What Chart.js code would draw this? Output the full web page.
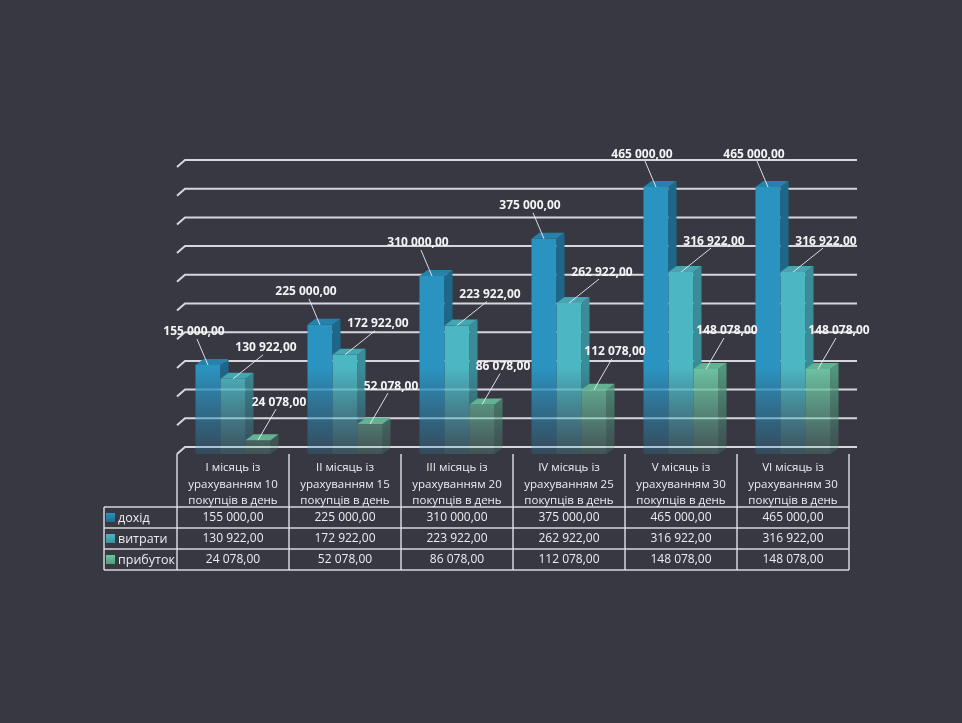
<!DOCTYPE html>
<html>
<head>
<meta charset="utf-8">
<script src="https://cdn.jsdelivr.net/npm/chart.js@4.4.1/dist/chart.umd.min.js"></script>
<style>
  html, body { margin: 0; padding: 0; background: #383843; }
  #wrap { width: 962px; height: 723px; }
</style>
</head>
<body>
<div id="wrap"><canvas id="chart" width="962" height="723"></canvas></div>
<script>
const categories = [
  ["I місяць із", "урахуванням 10", "покупців в день"],
  ["II місяць із", "урахуванням 15", "покупців в день"],
  ["III місяць із", "урахуванням 20", "покупців в день"],
  ["IV місяць із", "урахуванням 25", "покупців в день"],
  ["V місяць із", "урахуванням 30", "покупців в день"],
  ["VI місяць із", "урахуванням 30", "покупців в день"],
]
const income = [155000, 225000, 310000, 375000, 465000, 465000]
const costs = [130922, 172922, 223922, 262922, 316922, 316922]
const profit = [24078, 52078, 86078, 112078, 148078, 148078]
const seriesNames = ["дохід", "витрати", "прибуток"]

// face colours per series: front, top, side
const frontRgb = [[43, 147, 192], [77, 182, 195], [109, 194, 161]]
const topRgb = [[38, 130, 171], [69, 165, 176], [98, 179, 148]]
const sideRgb = [[29, 103, 138], [58, 141, 151], [80, 152, 125]]

const BAR_DX = 8, BAR_DY = 6
const GRID_DX = 8, GRID_DY = 7
const TEXT = "#ececf0"
const LINE = "rgba(222, 222, 228, 0.95)"

function rgba(c, a) {
  return `rgba(${c[0]}, ${c[1]}, ${c[2]}, ${a})`
}

function fade(ctx, area, c) {
  let g = ctx.createLinearGradient(0, area.top, 0, area.bottom)
  g.addColorStop(0, rgba(c, 1))
  g.addColorStop(0.7, rgba(c, 1))
  g.addColorStop(0.84, rgba(c, 0.6))
  g.addColorStop(1, rgba(c, 0.2))
  return g
}

function money(v) {
  let s = Math.round(v).toString().replace(/\B(?=(\d{3})+(?!\d))/g, " ")
  return s + ",00"
}

// gridlines painted on the back wall, with the short slant on the left
const backWall = {
  id: "backWall",
  beforeDatasetsDraw(chart) {
    const { ctx, chartArea, scales } = chart
    ctx.save()
    ctx.strokeStyle = LINE
    ctx.lineWidth = 2
    scales.y.ticks.forEach(function (t) {
      let y = scales.y.getPixelForValue(t.value)
      ctx.beginPath()
      ctx.moveTo(chartArea.left, y)
      ctx.lineTo(chartArea.left + GRID_DX, y - GRID_DY)
      ctx.lineTo(chartArea.right + GRID_DX, y - GRID_DY)
      ctx.stroke()
    })
    ctx.restore()
  },
}

// top and right faces of every bar
const barDepth = {
  id: "barDepth",
  afterDatasetsDraw(chart) {
    const { ctx, chartArea } = chart
    let metas = [0, 1, 2].map((i) => chart.getDatasetMeta(i))
    ctx.save()
    for (let j = 0; j < categories.length; j++) {
      for (let i = 0; i < metas.length; i++) {
        let bar = metas[i].data[j]
        let { x, y, base, width } = bar.getProps(["x", "y", "base", "width"], true)
        let l = x - width / 2
        let r = x + width / 2

        ctx.save()
        if (i < metas.length - 1) {
          // the next bar hides this side below its own top
          let next = metas[i + 1].data[j].y
          ctx.beginPath()
          ctx.rect(r - 1, 0, BAR_DX + 2, next)
          ctx.clip()
        }
        ctx.fillStyle = fade(ctx, chartArea, sideRgb[i])
        ctx.beginPath()
        ctx.moveTo(r, y)
        ctx.lineTo(r + BAR_DX, y - BAR_DY)
        ctx.lineTo(r + BAR_DX, base - BAR_DY)
        ctx.lineTo(r, base)
        ctx.closePath()
        ctx.fill()
        ctx.restore()

        ctx.fillStyle = rgba(topRgb[i], 1)
        ctx.beginPath()
        ctx.moveTo(l, y)
        ctx.lineTo(r, y)
        ctx.lineTo(r + BAR_DX, y - BAR_DY)
        ctx.lineTo(l + BAR_DX, y - BAR_DY)
        ctx.closePath()
        ctx.fill()
      }
    }
    ctx.restore()
  },
}

// value labels with leader lines
const labelOffsets = [[-14, -33], [33, -31], [21, -38]]
const valueLabels = {
  id: "valueLabels",
  afterDatasetsDraw(chart) {
    const { ctx } = chart
    ctx.save()
    ctx.font = "bold 12px 'Open Sans'"
    ctx.textAlign = "center"
    ctx.textBaseline = "middle"
    chart.data.datasets.forEach(function (ds, i) {
      let meta = chart.getDatasetMeta(i)
      meta.data.forEach(function (bar, j) {
        let lx = bar.x + labelOffsets[i][0]
        let ly = bar.y + labelOffsets[i][1]
        ctx.strokeStyle = "rgba(240, 240, 245, 0.9)"
        ctx.lineWidth = 1
        ctx.beginPath()
        ctx.moveTo(bar.x, bar.y)
        ctx.lineTo(lx - Math.sign(labelOffsets[i][0]) * 3, ly + 7)
        ctx.stroke()
        ctx.fillStyle = "#f4f4f6"
        ctx.fillText(money(ds.data[j]), lx, ly)
      })
    })
    ctx.restore()
  },
}

// data table under the chart
const dataTable = {
  id: "dataTable",
  afterDraw(chart) {
    const { ctx, chartArea, scales } = chart
    let n = categories.length
    let colW = (chartArea.right - chartArea.left) / n
    let top = chartArea.bottom
    let headH = 53
    let rowH = 21
    let rowsTop = top + headH
    let bottom = rowsTop + rowH * seriesNames.length
    let legendLeft = 104

    ctx.save()
    ctx.strokeStyle = LINE
    ctx.lineWidth = 1.5

    for (let k = 0; k <= n; k++) {
      let x = k == n ? scales.x.getPixelForValue(n - 1) + colW / 2 : scales.x.getPixelForValue(k) - colW / 2
      ctx.beginPath()
      ctx.moveTo(x, top)
      ctx.lineTo(x, bottom)
      ctx.stroke()
    }
    for (let r = 0; r <= seriesNames.length; r++) {
      let y = rowsTop + r * rowH
      ctx.beginPath()
      ctx.moveTo(legendLeft, y)
      ctx.lineTo(chartArea.right, y)
      ctx.stroke()
    }
    ctx.beginPath()
    ctx.moveTo(legendLeft, rowsTop)
    ctx.lineTo(legendLeft, bottom)
    ctx.stroke()

    ctx.fillStyle = TEXT
    ctx.font = "11.5px 'Open Sans'"
    ctx.textAlign = "center"
    ctx.textBaseline = "middle"
    categories.forEach(function (lines, j) {
      let cx = scales.x.getPixelForValue(j)
      lines.forEach(function (line, k) {
        ctx.fillText(line, cx, top + 14 + k * 16.5)
      })
    })

    ctx.font = "12px 'Open Sans'"
    chart.data.datasets.forEach(function (ds, i) {
      let cy = rowsTop + i * rowH + rowH / 2 + 0.5
      ds.data.forEach(function (v, j) {
        ctx.fillStyle = TEXT
        ctx.fillText(money(v), scales.x.getPixelForValue(j), cy)
      })
      let g = ctx.createLinearGradient(0, cy - 5, 0, cy + 5)
      g.addColorStop(0, rgba(frontRgb[i], 1))
      g.addColorStop(1, rgba(sideRgb[i], 1))
      ctx.fillStyle = g
      ctx.fillRect(legendLeft + 2, cy - 5, 9, 9)
      ctx.fillStyle = TEXT
      ctx.textAlign = "left"
      ctx.font = "12.5px 'Open Sans'"
      ctx.fillText(seriesNames[i], legendLeft + 14, cy)
      ctx.font = "12px 'Open Sans'"
      ctx.textAlign = "center"
    })
    ctx.restore()
  },
}

const datasets = [income, costs, profit].map(function (values, i) {
  return {
    label: seriesNames[i],
    data: values,
    borderWidth: 0,
    backgroundColor: function (context) {
      let area = context.chart.chartArea
      if (!area) return rgba(frontRgb[i], 1)
      return fade(context.chart.ctx, area, frontRgb[i])
    },
    barPercentage: 1,
    categoryPercentage: 0.67,
  }
})

const chart = new Chart(document.getElementById("chart"), {
  type: "bar",
  data: {
    labels: categories,
    datasets: datasets,
  },
  options: {
    responsive: false,
    devicePixelRatio: 1,
    animation: false,
    layout: {
      padding: { left: 177, right: 113, top: 167, bottom: 269 },
    },
    plugins: {
      legend: { display: false },
      tooltip: { enabled: false },
    },
    scales: {
      x: { display: false },
      y: {
        display: false,
        min: 0,
        max: 500000,
        ticks: { stepSize: 50000 },
      },
    },
  },
  plugins: [backWall, barDepth, valueLabels, dataTable],
})
</script>
</body>
</html>
